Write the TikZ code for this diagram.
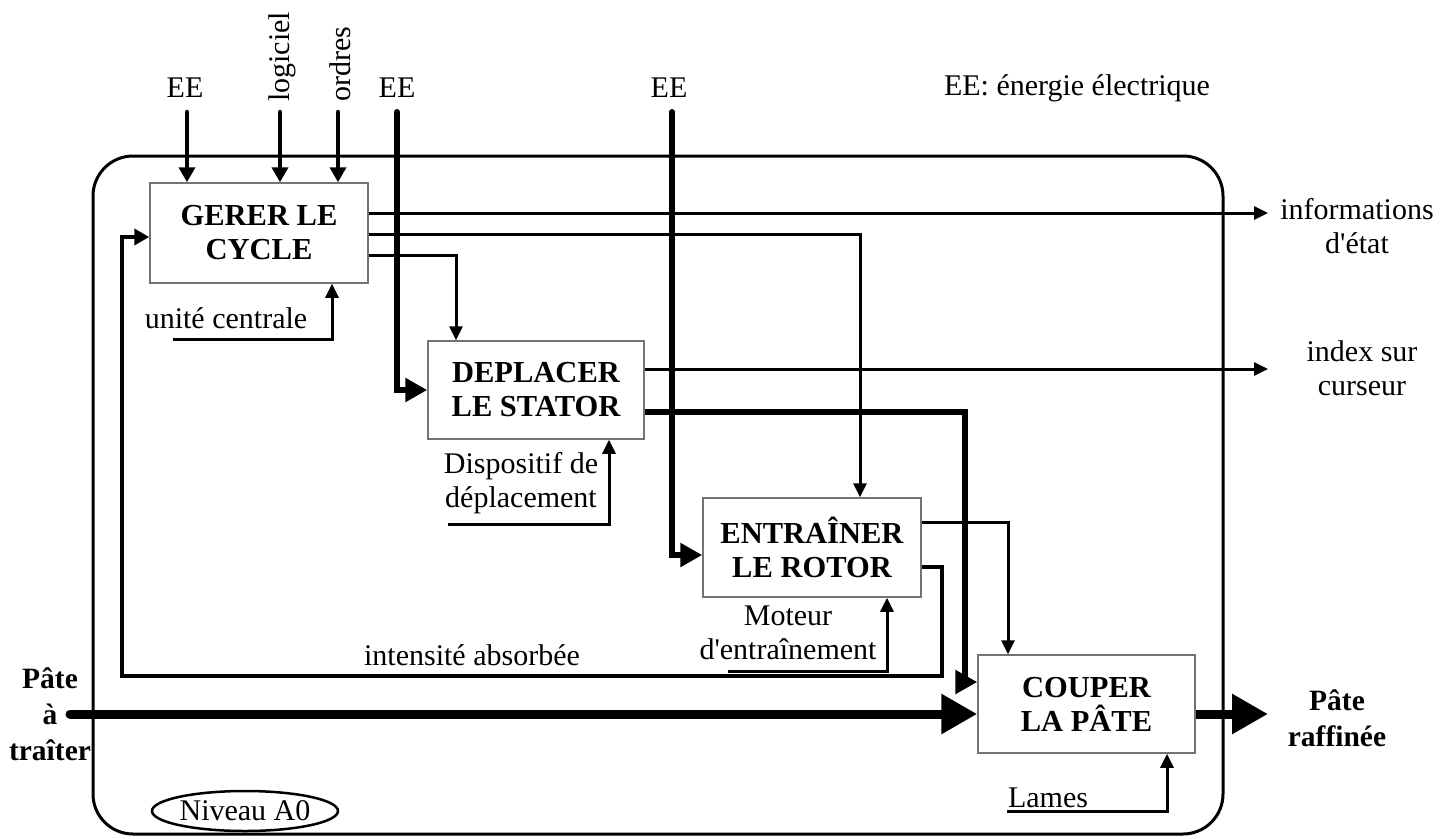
\documentclass[tikz,border=0pt]{standalone}
\usepackage{fontspec}
\setmainfont{Liberation Serif}
\usetikzlibrary{arrows.meta,shapes.geometric}
\begin{document}
\begin{tikzpicture}[x=1pt,y=-1pt,
  lbl/.style={font=\fontsize{30}{34}\selectfont, inner sep=0pt, align=center},
  blbl/.style={font=\fontsize{29.5}{36}\selectfont\bfseries, inner sep=0pt, align=center},
  fbox/.style={draw=black!55, line width=1.5pt, font=\fontsize{30.5}{34}\selectfont\bfseries, align=center, inner sep=0pt},
  thinarr/.style={line width=3pt, -{Triangle[length=14pt,width=13pt]}},
  medarr/.style={line width=4.5pt, -{Triangle[length=15pt,width=16pt]}},
  thickarr/.style={line width=6pt, -{Triangle[length=22pt,width=23pt]}},
  hugearr/.style={line width=9pt, -{Triangle[length=36pt,width=38pt]}}
]
\useasboundingbox (0,0) rectangle (1455,838);

% frame
\draw[line width=3pt, rounded corners=40pt] (93,156) rectangle (1223,834);

% boxes
\node[fbox, minimum width=218pt, minimum height=100pt] (gerer) at (259,233) {GERER LE\\CYCLE};
\node[fbox, minimum width=216pt, minimum height=98pt] (depl) at (536,390) {DEPLACER\\LE STATOR};
\node[fbox, minimum width=218pt, minimum height=99pt] (rotor) at (812,547.5) {ENTRAÎNER\\LE ROTOR};
\node[fbox, minimum width=217pt, minimum height=98pt] (coup) at (1086.5,704) {COUPER\\LA PÂTE};

% labels
\node[lbl] (lee1) at (185,88) {EE};
\node[lbl, rotate=90] (llog) at (282,57) {logiciel};
\node[lbl, rotate=90] (lord) at (340,64) {ordres};
\node[lbl] (lee2) at (397,88) {EE};
\node[lbl] (lee3) at (669,88) {EE};
\node[lbl] (legend) at (1077,88) {EE: énergie électrique};
\node[lbl] (linfo) at (1357,226) {informations\\d\textquotesingle état};
\node[lbl] (lindex) at (1362,368) {index sur\\curseur};
\node[lbl] (lunite) at (226,318) {unité centrale};
\node[lbl] (ldisp) at (521,483) {Dispositif de\\déplacement};
\node[lbl] (lmot) at (788,633) {Moteur\\d\textquotesingle entraînement};
\node[lbl] (lint) at (472,655) {intensité absorbée};
\node[lbl] (llames) at (1048,798) {Lames};
\node[blbl] (lpin) at (50,714) {Pâte\\à\\traîter};
\node[blbl] (lpout) at (1337,718) {Pâte\\raffinée};
\node[draw, line width=2.5pt, ellipse, minimum width=186pt, minimum height=40pt, inner sep=0pt, font=\fontsize{30}{34}\selectfont] (niv) at (245,811) {Niveau A0};

% controls into GERER
\coordinate (ee1) at (187,112);
\coordinate (log) at (280,112);
\coordinate (ord) at (338,112);
\draw[medarr, line cap=round] (ee1) -- (ee1 |- gerer.north);
\draw[medarr, line cap=round] (log) -- (log |- gerer.north);
\draw[medarr, line cap=round] (ord) -- (ord |- gerer.north);

% EE into DEPLACER and ENTRAINER
\coordinate (ee2) at (397,112);
\draw[thickarr, line cap=round] (ee2) -- (ee2 |- depl.west) -- (depl.west);
\coordinate (ee3) at (672,112);
\coordinate (ee3b) at (672,555);
\draw[thickarr, line cap=round] (ee3) -- (ee3b) -- (rotor.west |- ee3b);

% GERER outputs
\coordinate (info) at (1268,213);
\draw[thinarr] (gerer.east |- info) -- (info);
\coordinate (g2) at (860,234);
\draw[thinarr] (gerer.east |- g2) -- (g2) -- (g2 |- rotor.north);
\coordinate (g3) at (456,255);
\draw[thinarr] (gerer.east |- g3) -- (g3) -- (g3 |- depl.north);

% feedback intensite absorbee
\coordinate (fb1) at (942,567);
\coordinate (fb2) at (122,676);
\coordinate (fb3) at (122,237);
\draw[medarr] (rotor.east |- fb1) -- (fb1) -- (fb1 |- fb2) -- (fb2) -- (fb3) -- (gerer.west |- fb3);

% mechanisms
\coordinate (uc1) at (173,339);
\coordinate (uc2) at (332,339);
\draw[thinarr] (uc1) -- (uc2) -- (uc2 |- gerer.south);
\coordinate (d1) at (448,524);
\coordinate (d2) at (609,524);
\draw[thinarr] (d1) -- (d2) -- (d2 |- depl.south);
\coordinate (m1) at (728,671);
\coordinate (m2) at (887,671);
\draw[thinarr] (m1) -- (m2) -- (m2 |- rotor.south);
\coordinate (l1) at (1007,811);
\coordinate (l2) at (1167,811);
\draw[thinarr] (l1) -- (l2) -- (l2 |- coup.south);

% DEPLACER outputs
\coordinate (idx) at (1268,369);
\draw[thinarr] (depl.east |- idx) -- (idx);
\coordinate (t1) at (965,412);
\coordinate (t2) at (965,682);
\draw[thickarr] (depl.east |- t1) -- (t1) -- (t2) -- (coup.west |- t2);

% ENTRAINER output to COUPER
\coordinate (r1) at (1008,522);
\draw[thinarr] (rotor.east |- r1) -- (r1) -- (r1 |- coup.north);

% matter flow
\coordinate (pin) at (70,714);
\draw[hugearr, line cap=round] (pin) -- (coup.west |- pin);
\coordinate (pout) at (1268,714);
\draw[hugearr] (coup.east |- pout) -- (pout);
\end{tikzpicture}
\end{document}
